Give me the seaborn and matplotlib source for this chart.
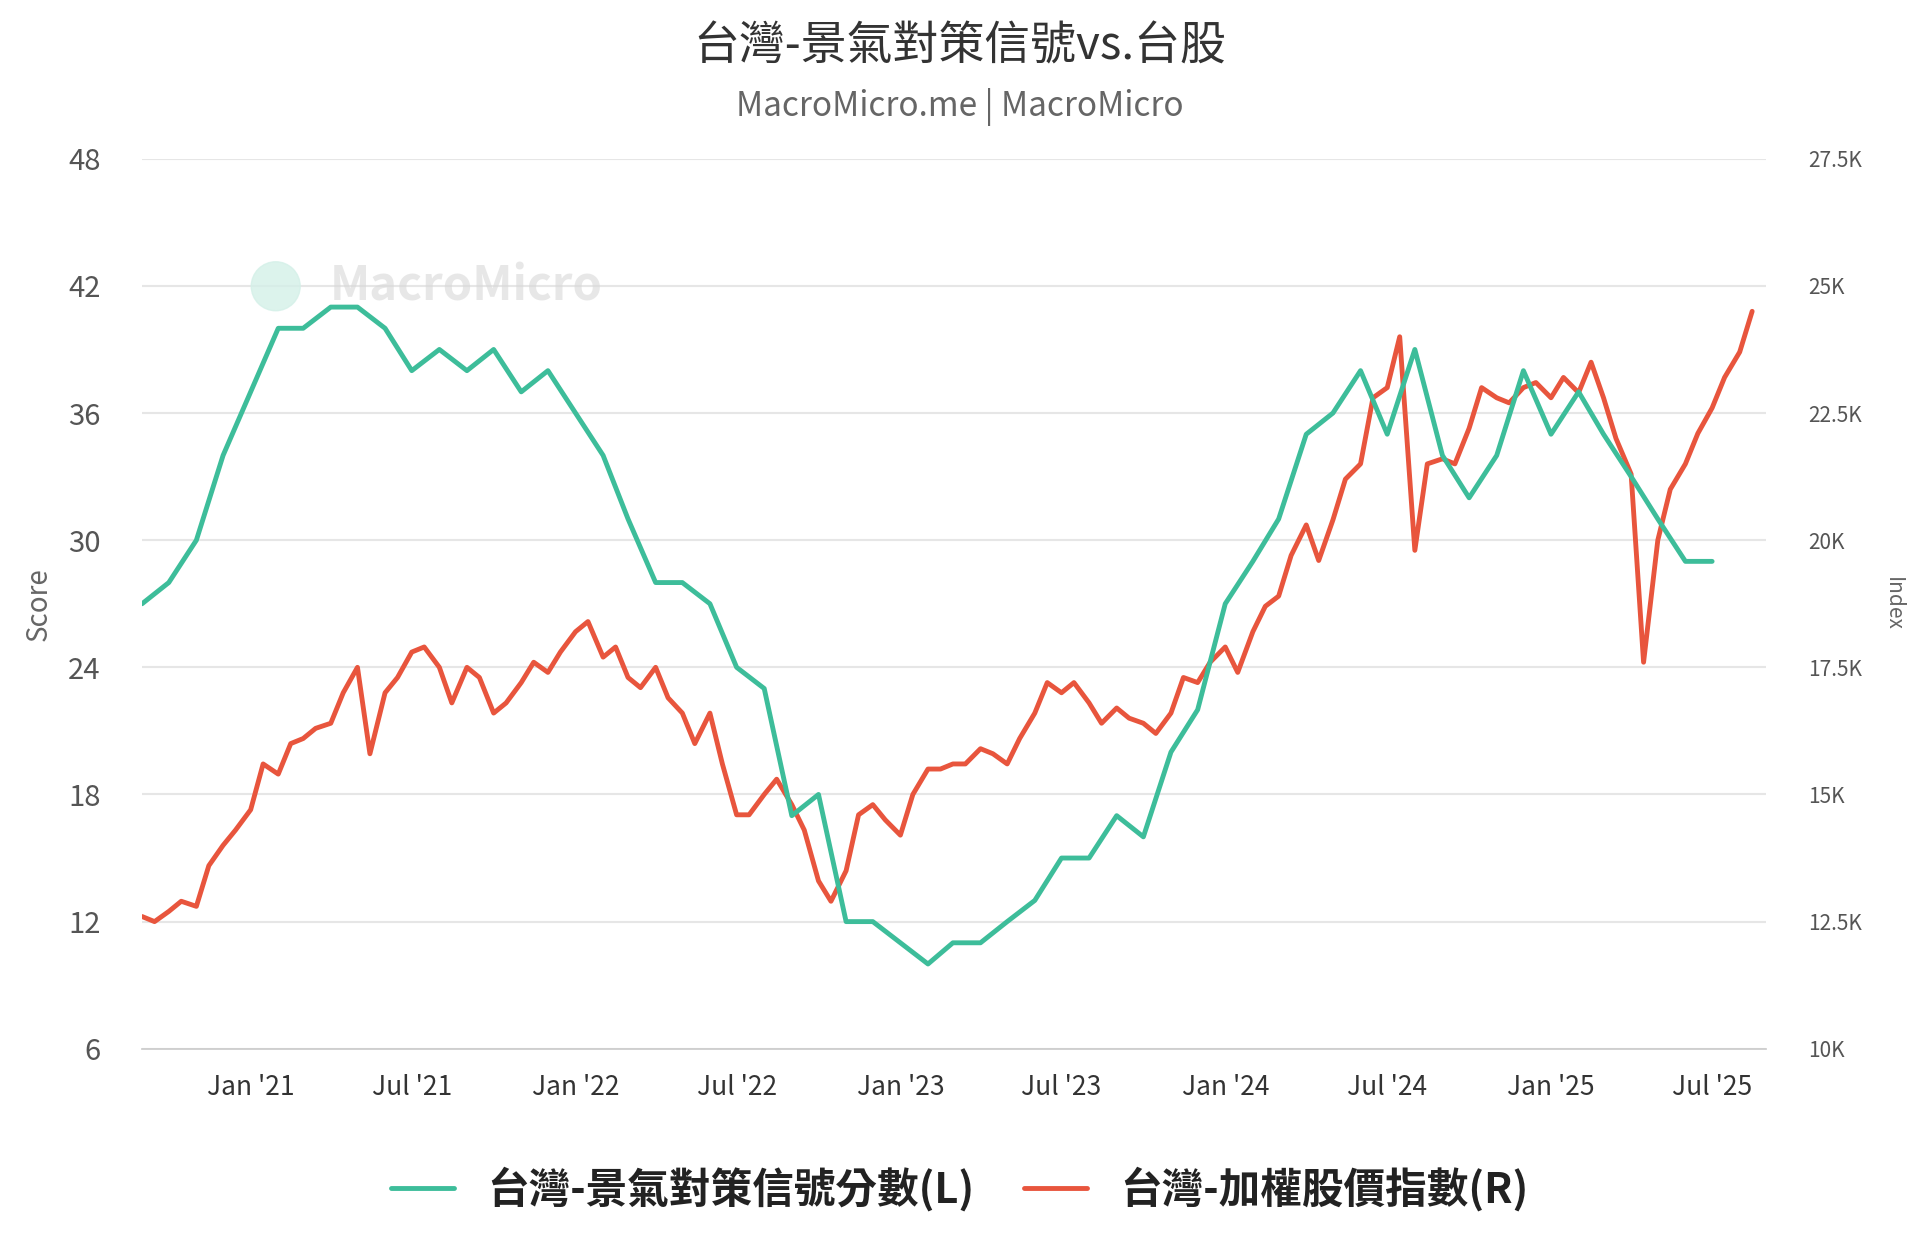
import pandas as pd
import matplotlib.pyplot as plt
import matplotlib.dates as mdates
import matplotlib.patches as mpatches
import seaborn as sns

# 景氣對策信號分數 (monthly, from Sep 2020)
score_dates = pd.date_range('2020-09-01', '2025-07-01', freq='MS')
score = [27, 28, 30, 34, 37, 40, 40, 41, 41, 40, 38, 39, 38, 39, 37, 38,
         36, 34, 31, 28, 28, 27, 24, 23, 17, 18, 12, 12, 11, 10, 11, 11,
         12, 13, 15, 15, 17, 16, 20, 22, 27, 29, 31, 35, 36, 38, 35, 39,
         34, 32, 34, 38, 35, 37, 35, 33, 31, 29, 29]

# 加權股價指數 (semi-monthly, thousands)
idx_dates = pd.date_range('2020-09-01', '2025-08-15', freq='SMS')
index_k = [12.6, 12.5, 12.7, 12.9, 12.8, 13.6, 14.0, 14.3,
           14.7, 15.6, 15.4, 16.0, 16.1, 16.3, 16.4, 17.0, 17.5, 15.8, 17.0, 17.3, 17.8, 17.9,
           17.5, 16.8, 17.5, 17.3, 16.6, 16.8, 17.2, 17.6, 17.4, 17.8,
           18.2, 18.4, 17.7, 17.9, 17.3, 17.1, 17.5, 16.9, 16.6, 16.0, 16.6, 15.6, 14.6, 14.6,
           15.0, 15.3, 14.8, 14.3, 13.3, 12.9, 13.5, 14.6, 14.8, 14.5,
           14.2, 15.0, 15.5, 15.5, 15.6, 15.6, 15.9, 15.8, 15.6, 16.1, 16.6, 17.2, 17.0, 17.2,
           16.8, 16.4, 16.7, 16.5, 16.4, 16.2, 16.6, 17.3, 17.2, 17.6,
           17.9, 17.4, 18.2, 18.7, 18.9, 19.7, 20.3, 19.6, 20.4, 21.2, 21.5, 22.8, 23.0, 24.0,
           19.8, 21.5, 21.6, 21.5, 22.2, 23.0, 22.8, 22.7, 23.0, 23.1,
           22.8, 23.2, 22.9, 23.5, 22.8, 22.0, 21.3, 17.6, 20.0, 21.0, 21.5, 22.1, 22.6, 23.2,
           23.7, 24.5]

teal = '#3dbd9a'
red = '#e8553d'

sns.set_theme(style='white')
plt.rcParams['font.family'] = ['Noto Sans CJK TC', 'DejaVu Sans']

fig, ax = plt.subplots(figsize=(19.2, 12.5), dpi=100)
fig.subplots_adjust(left=0.074, right=0.92, top=0.873, bottom=0.161)
ax2 = ax.twinx()

sns.lineplot(x=score_dates, y=score, ax=ax, color=teal, linewidth=3.5, zorder=3)
sns.lineplot(x=idx_dates, y=[v * 1000 for v in index_k], ax=ax2, color=red, linewidth=3.5)

ax.set_zorder(ax2.get_zorder() + 1)
ax.patch.set_visible(False)

ax.set_ylim(6, 48)
ax.set_yticks(range(6, 49, 6))
ax2.set_ylim(10000, 27500)
ax2.set_yticks(range(10000, 27501, 2500))
ax2.set_yticklabels([f'{v/1000:g}K' for v in range(10000, 27501, 2500)])
ax.set_xlim(pd.Timestamp('2020-09-01'), pd.Timestamp('2025-08-31'))

ax.grid(False)
ax2.grid(True, axis='y', color='#e6e6e6', linewidth=1.5)
ax2.grid(False, axis='x')
for a in (ax, ax2):
    for s in a.spines.values():
        s.set_visible(False)
ax.spines['bottom'].set_visible(True)
ax.spines['bottom'].set_color('#cccccc')

ticks = pd.to_datetime(['2021-01-01', '2021-07-01', '2022-01-01', '2022-07-01', '2023-01-01',
                        '2023-07-01', '2024-01-01', '2024-07-01', '2025-01-01', '2025-07-01'])
ax.set_xticks(ticks)
ax.xaxis.set_major_formatter(mdates.DateFormatter("%b '%y"))
ax.tick_params(axis='x', labelsize=19, colors='#333333', length=10, color='#cccccc', pad=8)
ax.tick_params(axis='y', labelsize=21, colors='#555555', length=0, pad=30)
ax2.tick_params(axis='y', labelsize=15, colors='#555555', length=0, pad=30)
ax.set_ylabel('Score', fontsize=20, color='#666666', labelpad=10)
ax2.set_ylabel('Index', fontsize=15, color='#666666', rotation=270, labelpad=30)
ax.set_xlabel('')

fig.text(0.5, 0.963, '台灣-景氣對策信號vs.台股', ha='center', va='center', fontsize=33, color='#333333')
fig.text(0.5, 0.914, 'MacroMicro.me | MacroMicro', ha='center', va='center', fontsize=24, color='#666666')
fig.patches.append(mpatches.Ellipse((0.1436, 0.771), 0.0255, 0.0392, transform=fig.transFigure,
                                    color='#d4f0e8', alpha=0.8, zorder=0))
fig.text(0.172, 0.771, 'MacroMicro', ha='left', va='center', fontsize=34, color='#d8d8d8',
         fontweight='bold', alpha=0.6, zorder=0)

leg = fig.legend(handles=ax.get_lines()[:1] + ax2.get_lines()[:1],
                 labels=['台灣-景氣對策信號分數(L)', '台灣-加權股價指數(R)'],
                 loc='center', bbox_to_anchor=(0.5, 0.049), ncol=2, frameon=False,
                 prop={'size': 30, 'weight': 'bold'}, handlelength=1.5, columnspacing=1.2)
for t in leg.get_texts():
    t.set_color('#222222')

fig.savefig('out.png', dpi=100)
